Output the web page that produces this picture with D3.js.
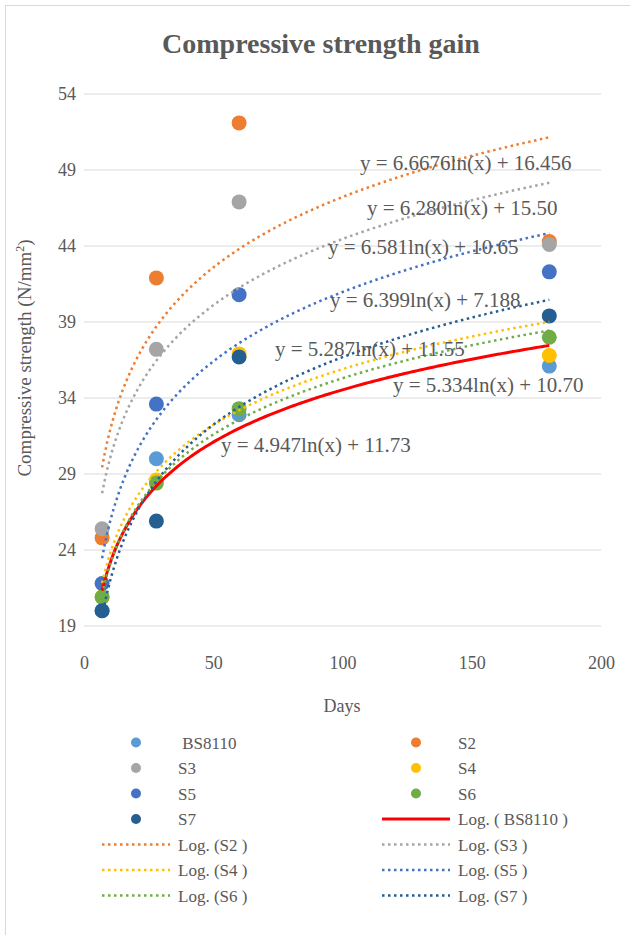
<!DOCTYPE html>
<html>
<head>
<meta charset="utf-8">
<script src="https://cdn.jsdelivr.net/npm/d3@7"></script>
<style>
  body { margin: 0; background: #fff; }
  text { font-family: "Liberation Serif", "Times New Roman", serif; fill: #595959; }
</style>
</head>
<body>
<svg id="chart" width="630" height="935"></svg>
<script>
// DATA
const days = [7, 28, 60, 180];
const seriesNames = ["BS8110", "S2", "S3", "S4", "S5", "S6", "S7"];
const bs8110 = [20.0, 30.0, 32.9, 36.1];
const s2 = [24.8, 41.9, 52.1, 44.3];
const s3 = [25.4, 37.2, 46.9, 44.1];
const s4 = [20.9, 28.6, 36.9, 36.8];
const s5 = [21.8, 33.6, 40.8, 42.3];
const s6 = [20.9, 28.4, 33.3, 38.0];
const s7 = [20.0, 25.9, 36.7, 39.4];
const seriesValues = [bs8110, s2, s3, s4, s5, s6, s7];
const colors = ["#5B9BD5", "#ED7D31", "#A5A5A5", "#FFC000", "#4472C4", "#70AD47", "#255E91"];
const equationLabels = [
  "y = 4.947ln(x) + 11.73",
  "y = 6.6676ln(x) + 16.456",
  "y = 6.280ln(x) + 15.50",
  "y = 5.287ln(x) + 11.55",
  "y = 6.581ln(x) + 10.65",
  "y = 5.334ln(x) + 10.70",
  "y = 6.399ln(x) + 7.188"
];
const xTicks = [0, 50, 100, 150, 200];
const yTicks = [19, 24, 29, 34, 39, 44, 49, 54];

// label anchor spots (left edge, baseline) for the trendline equations
const labelPos = [[221, 452], [360, 170], [367, 215], [275, 356], [328, 254], [393, 392], [330, 306.5]];

const svg = d3.select("#chart");

// chart area border (only top/left fall inside the picture)
svg.append("rect")
    .attr("x", 5.5).attr("y", 5.5)
    .attr("width", 700).attr("height", 1000)
    .attr("fill", "none").attr("stroke", "#d9d9d9").attr("stroke-width", 1);

const x = d3.scaleLinear().domain([0, 200]).range([84, 601]);
const y = d3.scaleLinear().domain([19, 54]).range([626, 94]);

// title
svg.append("text")
    .attr("x", 321).attr("y", 53)
    .attr("text-anchor", "middle")
    .style("font-size", "28px").style("font-weight", "bold")
    .text("Compressive strength gain");

// gridlines
svg.append("g")
    .selectAll("line")
    .data(yTicks)
    .join("line")
      .attr("x1", x(0)).attr("x2", x(200))
      .attr("y1", d => y(d)).attr("y2", d => y(d))
      .attr("stroke", "#d9d9d9").attr("stroke-width", 1);

// axes
const yAxis = svg.append("g")
    .attr("transform", "translate(84,0)")
    .call(d3.axisLeft(y).tickValues(yTicks).tickSize(0).tickPadding(8));
const xAxis = svg.append("g")
    .attr("transform", "translate(0,626)")
    .call(d3.axisBottom(x).tickValues(xTicks).tickSize(0).tickPadding(30));
[xAxis, yAxis].forEach(a => {
  a.select(".domain").remove();
  a.selectAll("text")
    .attr("fill", "#595959")
    .style("font-family", '"Liberation Serif", serif')
    .style("font-size", "18px");
});

svg.append("text")
    .attr("x", 342).attr("y", 712)
    .attr("text-anchor", "middle")
    .style("font-size", "18px")
    .text("Days");

const yTitle = svg.append("text")
    .attr("transform", "translate(31,358) rotate(-90)")
    .attr("text-anchor", "middle")
    .style("font-size", "19px");
yTitle.append("tspan").text("Compressive strength (N/mm");
yTitle.append("tspan").attr("dy", -7).style("font-size", "12px").text("2");
yTitle.append("tspan").attr("dy", 7).text(")");

// markers
seriesValues.forEach((vals, i) => {
  svg.append("g")
    .selectAll("circle")
    .data(vals)
    .join("circle")
      .attr("cx", (d, j) => x(days[j]))
      .attr("cy", d => y(d))
      .attr("r", 7.5)
      .attr("fill", colors[i]);
});

// logarithmic trendlines (least squares on ln(day))
function logFit(vals) {
  const lx = days.map(Math.log);
  const mx = d3.mean(lx), my = d3.mean(vals);
  const sxy = d3.sum(lx, (v, j) => (v - mx) * (vals[j] - my));
  const sxx = d3.sum(lx, v => (v - mx) * (v - mx));
  const b = sxy / sxx;
  return { b: b, a: my - b * mx };
}

const line = d3.line().x(d => x(d[0])).y(d => y(d[1]));
const xs = d3.range(days[0], days[days.length - 1] + 0.5, 1);

seriesValues.forEach((vals, i) => {
  const fit = logFit(vals);
  const pts = xs.map(t => [t, fit.b * Math.log(t) + fit.a]);
  const p = svg.append("path")
    .datum(pts)
    .attr("fill", "none")
    .attr("d", line);
  if (i === 0) {
    p.attr("stroke", "#FF0000").attr("stroke-width", 3);
  } else {
    p.attr("stroke", colors[i]).attr("stroke-width", 2.5)
     .attr("stroke-dasharray", "2.5,3.5");
  }
});

// equation labels
equationLabels.forEach((lab, i) => {
  svg.append("text")
    .attr("x", labelPos[i][0]).attr("y", labelPos[i][1])
    .style("font-size", "21px")
    .text(lab);
});

// legend
const legendItems = [];
seriesNames.forEach((n, i) => legendItems.push({ kind: "dot", label: n === "BS8110" ? "\u00a0BS8110" : n, i: i }));
seriesNames.forEach((n, i) => legendItems.push({ kind: "line", label: n === "BS8110" ? "Log. ( BS8110 )" : "Log. (" + n + " )", i: i }));

const legend = svg.append("g");
legendItems.forEach((item, k) => {
  const col = k % 2, row = Math.floor(k / 2);
  const cx = col === 0 ? 136 : 416;
  const cy = 742.5 + row * 25.5;
  const g = legend.append("g");
  if (item.kind === "dot") {
    g.append("circle").attr("cx", cx).attr("cy", cy).attr("r", 5).attr("fill", colors[item.i]);
  } else if (item.i === 0) {
    g.append("line").attr("x1", cx - 34).attr("x2", cx + 34).attr("y1", cy).attr("y2", cy)
      .attr("stroke", "#FF0000").attr("stroke-width", 3);
  } else {
    g.append("line").attr("x1", cx - 34).attr("x2", cx + 34).attr("y1", cy).attr("y2", cy)
      .attr("stroke", colors[item.i]).attr("stroke-width", 2.5).attr("stroke-dasharray", "2.5,3.5");
  }
  g.append("text")
    .attr("x", cx + 42).attr("y", cy + 6)
    .style("font-size", "17px")
    .text(item.label);
});
</script>
</body>
</html>
